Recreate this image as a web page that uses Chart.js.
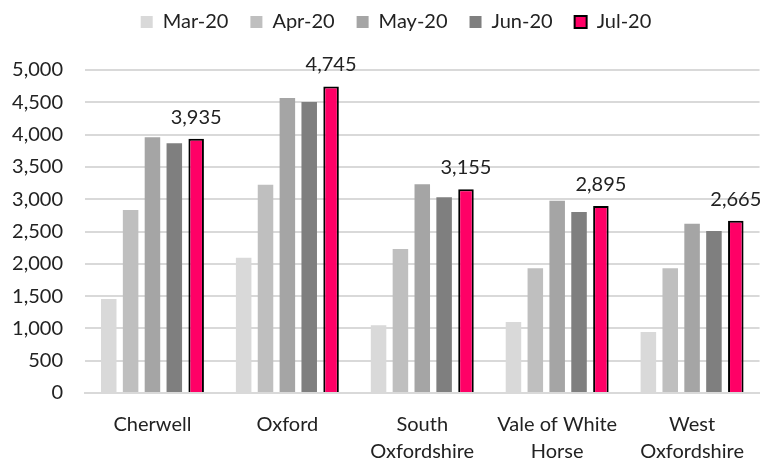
<!DOCTYPE html>
<html>
<head>
<meta charset="utf-8">
<script src="https://cdn.jsdelivr.net/npm/chart.js@4"></script>
<style>
  html, body { margin: 0; padding: 0; background: #fff; }
  #wrap { width: 762px; height: 459px; }
</style>
</head>
<body>
<div id="wrap"><canvas id="areaChart"></canvas></div>
<script>
const districts = [['Cherwell'], ['Oxford'], ['South', 'Oxfordshire'], ['Vale of White', 'Horse'], ['West', 'Oxfordshire']];
const months = ['Mar-20', 'Apr-20', 'May-20', 'Jun-20', 'Jul-20'];
const mar20 = [1455, 2095, 1048, 1099, 944];
const apr20 = [2833, 3225, 2229, 1930, 1930];
const may20 = [3958, 4567, 3231, 2977, 2621];
const jun20 = [3865, 4505, 3029, 2802, 2508];
const jul20 = [3935, 4745, 3155, 2895, 2665];

const greys = ['#d9d9d9', '#bfbfbf', '#a5a5a5', '#7f7f7f'];
const FONT = 'Lato';

// label values above the July bars only
const julLabels = {
  id: 'julLabels',
  afterDatasetsDraw(chart) {
    const ctx = chart.ctx;
    const meta = chart.getDatasetMeta(4);
    ctx.save();
    ctx.font = '20px ' + FONT;
    ctx.fillStyle = '#222';
    ctx.textAlign = 'center';
    ctx.textBaseline = 'alphabetic';
    meta.data.forEach((bar, i) => {
      ctx.fillText(jul20[i].toLocaleString('en-GB'), bar.x, bar.y - 15);
    });
    ctx.restore();
  }
};

// fixed legend height, and move it to where the original sits
const legendGap = {
  id: 'legendGap',
  beforeInit(chart) {
    const fit = chart.legend.fit;
    chart.legend.fit = function () {
      fit.call(this);
      this.height = 70;
    };
  },
  afterLayout(chart) {
    chart.legend.top -= 10;
    chart.legend.left += 10;
    chart.legend.right += 10;
  }
};

const data = {
  labels: districts,
  datasets: [
    { label: months[0], data: mar20, backgroundColor: greys[0] },
    { label: months[1], data: apr20, backgroundColor: greys[1] },
    { label: months[2], data: may20, backgroundColor: greys[2] },
    { label: months[3], data: jun20, backgroundColor: greys[3] },
    { label: months[4], data: jul20, backgroundColor: '#ff0066', borderColor: '#000', borderWidth: 2 }
  ]
};

const config = {
  type: 'bar',
  data: data,
  options: {
    responsive: true,
    maintainAspectRatio: false,
    animation: false,
    layout: { padding: { left: 10, right: 0, top: 0, bottom: 0 } },
    datasets: { bar: { categoryPercentage: 0.81, barPercentage: 0.71 } },
    scales: {
      x: {
        grid: { display: false, drawTicks: false },
        border: { color: '#d9d9d9', width: 2 },
        ticks: { color: '#222', font: { family: FONT, size: 20, lineHeight: 1.35 }, maxRotation: 0, padding: 18 },
        afterFit(scale) { scale.height = 66; }
      },
      y: {
        min: 0,
        max: 5000,
        grid: { color: '#d9d9d9', lineWidth: 2, drawTicks: false },
        border: { display: false },
        ticks: {
          stepSize: 500,
          color: '#222',
          padding: 22,
          font: { family: FONT, size: 20 },
          callback: v => v.toLocaleString('en-GB')
        },
        afterFit(scale) { scale.width = 75; }
      }
    },
    plugins: {
      legend: {
        position: 'top',
        labels: {
          color: '#222',
          font: { family: FONT, size: 20 },
          boxWidth: 12,
          boxHeight: 12,
          padding: 22
        }
      },
      tooltip: { enabled: false }
    }
  },
  plugins: [julLabels, legendGap]
};

const ctx = document.getElementById('areaChart').getContext('2d');
const areaChart = new Chart(ctx, config);
</script>
</body>
</html>
